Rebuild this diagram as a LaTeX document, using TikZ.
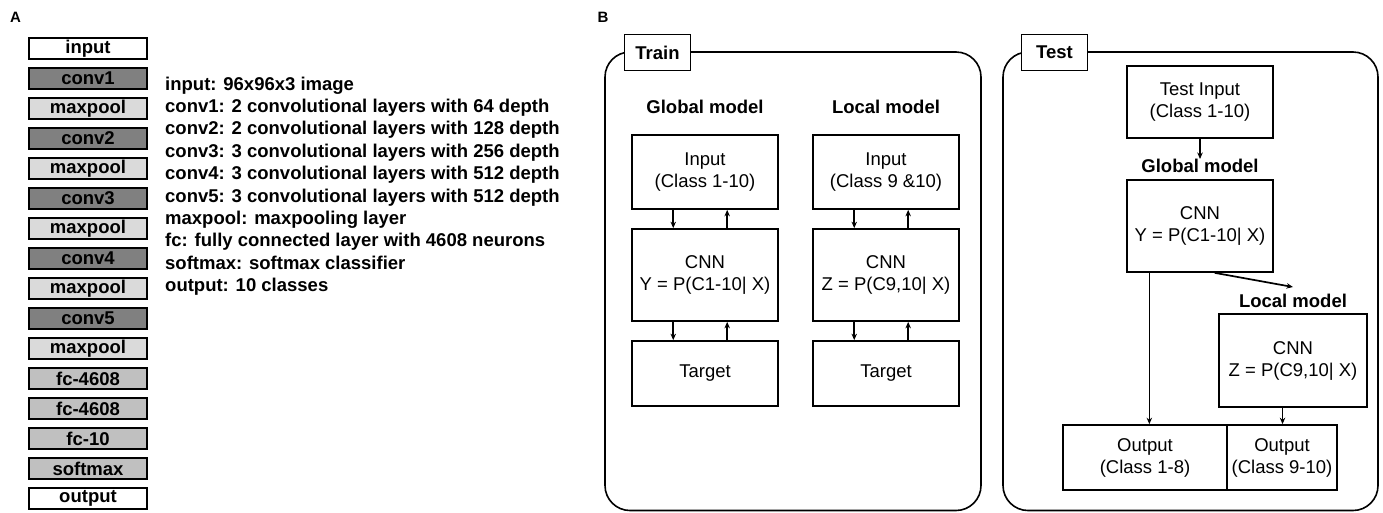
\documentclass[tikz,border=0pt]{standalone}
\usepackage{fontspec}
\setmainfont{Liberation Sans}
\usetikzlibrary{arrows.meta,calc}
\definecolor{convgray}{HTML}{808080}
\definecolor{poolgray}{HTML}{DADADA}
\definecolor{fcgray}{HTML}{C0C0C0}
\tikzset{
  fnt/.style={font=\fontsize{18.5}{22}\selectfont},
  bfnt/.style={font=\fontsize{18.5}{22}\selectfont\bfseries},
  layer/.style={draw=black, line width=2pt, minimum width=118pt, minimum height=21pt, inner sep=0pt, bfnt},
  inl/.style={layer, fill=white},
  convl/.style={layer, fill=convgray},
  pooll/.style={layer, fill=poolgray},
  fcl/.style={layer, fill=fcgray},
  desc/.style={bfnt, inner sep=0pt, anchor=base west},
  fbox/.style={draw=black, line width=1.7pt, align=center, inner sep=0pt, fnt},
  head/.style={bfnt, inner sep=0pt},
  panel/.style={draw=black, line width=1.6pt, rounded corners=25pt},
  tag/.style={draw=black, fill=white, line width=1.7pt, bfnt, inner sep=0pt, minimum width=66pt, minimum height=36pt},
  letter/.style={font=\fontsize{15}{18}\selectfont\bfseries, inner sep=0pt},
  arr/.style={line width=1.7pt, -{Stealth[length=6.5pt,width=5.5pt]}}
}
\begin{document}
\begin{tikzpicture}[x=1pt,y=-1pt]
\useasboundingbox (0,0) rectangle (1383,512);

% ---------- A ----------
\node[letter] (la) at (15.5,17.5) {A};
\node[inl]   (l1)  at (88,48.5)  {input};
\node[convl] (l2)  at (88,78.5)  {conv1};
\node[pooll] (l3)  at (88,108.5) {maxpool};
\node[convl] (l4)  at (88,138.5) {conv2};
\node[pooll] (l5)  at (88,168.5) {maxpool};
\node[convl] (l6)  at (88,198.5) {conv3};
\node[pooll] (l7)  at (88,228.5) {maxpool};
\node[convl] (l8)  at (88,258.5) {conv4};
\node[pooll] (l9)  at (88,288.5) {maxpool};
\node[convl] (l10) at (88,318.5) {conv5};
\node[pooll] (l11) at (88,348.5) {maxpool};
\node[fcl]   (l12) at (88,378.5) {fc-4608};
\node[fcl]   (l13) at (88,408.5) {fc-4608};
\node[fcl]   (l14) at (88,438.5) {fc-10};
\node[fcl]   (l15) at (88,468.5) {softmax};
\node[inl]   (l16) at (88,498.5) {output};

\node[desc] (d1)  at (165,90.0)  {input: 96x96x3 image};
\node[desc] (d2)  at (165,112.4) {conv1: 2 convolutional layers with 64 depth};
\node[desc] (d3)  at (165,134.8) {conv2: 2 convolutional layers with 128 depth};
\node[desc] (d4)  at (165,157.2) {conv3: 3 convolutional layers with 256 depth};
\node[desc] (d5)  at (165,179.6) {conv4: 3 convolutional layers with 512 depth};
\node[desc] (d6)  at (165,202.0) {conv5: 3 convolutional layers with 512 depth};
\node[desc] (d7)  at (165,224.4) {maxpool: maxpooling layer};
\node[desc] (d8)  at (165,246.8) {fc: fully connected layer with 4608 neurons};
\node[desc] (d9)  at (165,269.2) {softmax: softmax classifier};
\node[desc] (d10) at (165,291.6) {output: 10 classes};

% ---------- B ----------
\node[letter] (lb) at (603,17.5) {B};

% Train panel
\draw[panel] (605,52) rectangle (981,510.5);
\node[tag] (train) at (657.5,52.5) {Train};
\node[head] (gh) at (705,107) {Global model};
\node[head] (lh) at (886,107) {Local model};

\node[fbox, minimum width=146pt, minimum height=74pt] (gin)  at (705,172)   {Input\\(Class 1-10)};
\node[fbox, minimum width=146pt, minimum height=92pt] (gcnn) at (705,275)   {CNN\\Y = P(C1-10| X)};
\node[fbox, minimum width=146pt, minimum height=65pt] (gtar) at (705,373.5) {Target};

\node[fbox, minimum width=146pt, minimum height=74pt] (lin)  at (886,172)   {Input\\(Class 9 \&10)};
\node[fbox, minimum width=146pt, minimum height=92pt] (lcn)  at (886,275)   {CNN\\Z = P(C9,10| X)};
\node[fbox, minimum width=146pt, minimum height=65pt] (ltar) at (886,373.5) {Target};

\foreach \a/\b in {gin/gcnn, gcnn/gtar, lin/lcn, lcn/ltar}{
  \draw[arr] ($(\a.south west)!0.285!(\a.south east)$) -- ($(\b.north west)!0.285!(\b.north east)$);
  \draw[arr] ($(\b.north west)!0.65!(\b.north east)$) -- ($(\a.south west)!0.65!(\a.south east)$);
}

% Test panel
\draw[panel] (1003,52) rectangle (1378,510.5);
\node[tag] (test) at (1054.5,52.5) {Test};

\node[fbox, minimum width=146pt, minimum height=72pt] (tin)  at (1200,102)   {Test Input\\(Class 1-10)};
\node[head] (tglob) at (1200,166) {Global model};
\node[fbox, minimum width=146pt, minimum height=92pt] (tcnn) at (1200,226)   {CNN\\Y = P(C1-10| X)};
\node[head] (tloc) at (1293,301) {Local model};
\node[fbox, minimum width=148pt, minimum height=93pt] (tlcnn) at (1293,360.5) {CNN\\Z = P(C9,10| X)};
\node[fbox, minimum width=164pt, minimum height=65pt] (out1) at (1145,457.5) {Output\\(Class 1-8)};
\node[fbox, minimum width=110pt, minimum height=65pt] (out2) at (1282,457.5) {Output\\(Class 9-10)};

\draw[arr] (tin.south) -- (tglob.north);
\draw[arr] ($(tcnn.south west)!0.6!(tcnn.south east)$) -- ($(tloc.north)+(0,7pt)$);
\coordinate (p1) at ($(tcnn.south west)!0.157!(tcnn.south east)$);
\draw[arr] (p1) -- (p1 |- out1.north);
\coordinate (p2) at ($(tlcnn.south west)!0.43!(tlcnn.south east)$);
\draw[arr] (p2) -- (p2 |- out2.north);
\end{tikzpicture}
\end{document}
